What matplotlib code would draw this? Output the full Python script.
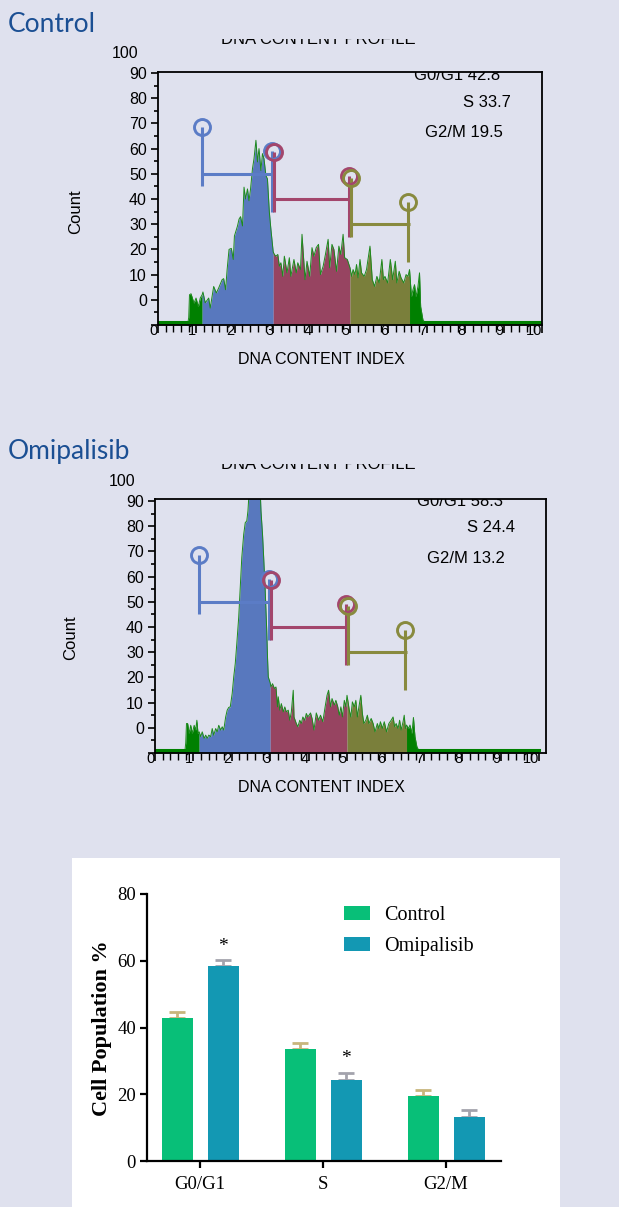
import numpy as np
import matplotlib
matplotlib.use("Agg")
import matplotlib.pyplot as plt
from matplotlib.ticker import MultipleLocator
from matplotlib.transforms import Bbox, TransformedBbox, blended_transform_factory
from matplotlib.patches import Rectangle

# ---------------- data ----------------
ctrl_x = [0.0, 0.78, 0.80, 0.82, 0.86, 0.91, 0.94, 0.99, 1.05, 1.10, 1.15, 1.17, 1.23, 1.32,
          1.36, 1.45, 1.52, 1.58, 1.67, 1.71, 1.76, 1.80, 1.85, 1.91, 1.96, 1.99, 2.07, 2.11,
          2.15, 2.20, 2.24, 2.28, 2.33, 2.37, 2.41, 2.46, 2.50, 2.55, 2.59, 2.63, 2.68, 2.72,
          2.76, 2.81, 2.85, 2.90, 2.94, 3.00, 3.03, 3.07, 3.12, 3.16, 3.20, 3.25, 3.29, 3.36,
          3.42, 3.46, 3.54, 3.60, 3.64, 3.71, 3.75, 3.77, 3.83, 3.88, 3.95, 4.01, 4.06, 4.12,
          4.18, 4.23, 4.30, 4.36, 4.43, 4.47, 4.53, 4.58, 4.65, 4.71, 4.76, 4.82, 4.86, 4.93,
          5.00, 5.04, 5.08, 5.13, 5.17, 5.21, 5.26, 5.30, 5.37, 5.43, 5.52, 5.58, 5.64, 5.70,
          5.76, 5.83, 5.87, 5.91, 5.98, 6.05, 6.11, 6.18, 6.22, 6.28, 6.33, 6.40, 6.46, 6.51,
          6.55, 6.60, 6.64, 6.68, 6.72, 6.77, 6.81, 6.84, 6.90, 6.95, 10.0]
ctrl_y = [1.0, 1.0, 3.0, 12.0, 12.4, 10.0, 8.7, 10.7, 7.3, 10.7, 12.0, 13.1, 8.8, 10.7,
          6.7, 15.3, 12.7, 14.7, 18.0, 18.4, 14.0, 22.0, 30.0, 30.4, 26.0, 35.3, 39.3, 42.0,
          43.0, 39.3, 54.7, 50.0, 54.0, 49.3, 54.0, 62.0, 66.0, 73.3, 64.7, 70.0, 61.3, 68.0,
          66.0, 59.3, 58.0, 44.7, 38.0, 29.0, 28.0, 27.3, 28.0, 23.3, 24.7, 19.3, 27.3, 20.7,
          26.7, 19.3, 26.0, 20.7, 24.7, 22.0, 36.0, 31.3, 18.0, 25.3, 19.3, 30.7, 27.3, 30.7,
          32.0, 20.0, 23.3, 28.0, 34.0, 22.7, 32.0, 30.0, 21.3, 31.3, 28.0, 36.0, 26.7, 26.0,
          22.7, 19.3, 22.0, 20.0, 24.0, 18.7, 26.0, 20.7, 19.3, 22.0, 31.3, 18.0, 15.3, 19.3,
          16.7, 26.0, 18.0, 19.3, 16.7, 26.0, 18.0, 25.3, 16.7, 21.3, 18.7, 16.7, 20.0, 19.3,
          22.0, 11.3, 14.0, 16.0, 11.3, 15.3, 20.7, 7.3, 2.0, 1.0, 1.0]

omi_x = [0.0, 0.78, 0.80, 0.82, 0.85, 0.89, 0.93, 0.97, 1.02, 1.06, 1.09, 1.12, 1.15, 1.19,
         1.23, 1.28, 1.32, 1.36, 1.40, 1.45, 1.49, 1.53, 1.58, 1.62, 1.66, 1.71, 1.75, 1.79,
         1.84, 1.88, 1.92, 1.96, 2.01, 2.05, 2.09, 2.13, 2.18, 2.22, 2.26, 2.31, 2.35, 2.39,
         2.42, 2.46, 2.56, 2.65, 2.74, 2.76, 2.80, 2.83, 2.87, 2.91, 2.93, 2.95, 3.00, 3.02,
         3.06, 3.11, 3.15, 3.19, 3.21, 3.25, 3.29, 3.34, 3.38, 3.42, 3.47, 3.51, 3.55, 3.60,
         3.62, 3.68, 3.72, 3.77, 3.81, 3.85, 3.90, 3.94, 3.98, 4.05, 4.09, 4.14, 4.20, 4.26,
         4.31, 4.37, 4.43, 4.48, 4.52, 4.57, 4.61, 4.67, 4.71, 4.76, 4.80, 4.84, 4.88, 4.93,
         4.97, 5.00, 5.06, 5.10, 5.14, 5.19, 5.23, 5.27, 5.31, 5.36, 5.40, 5.44, 5.49, 5.53,
         5.57, 5.63, 5.68, 5.73, 5.79, 5.83, 5.87, 5.92, 5.97, 6.03, 6.09, 6.15, 6.20, 6.24,
         6.28, 6.33, 6.37, 6.41, 6.46, 6.49, 6.52, 6.55, 6.60, 6.64, 6.69, 6.73, 6.77, 6.82,
         6.87, 10.0]
omi_y = [1.0, 1.0, 4.0, 11.7, 11.7, 7.8, 11.0, 7.8, 11.0, 9.1, 13.0, 7.8, 8.4, 6.5,
         8.4, 5.8, 7.1, 5.8, 7.1, 6.5, 9.7, 7.1, 9.7, 8.4, 11.0, 9.1, 10.4, 9.1,
         14.3, 17.0, 18.1, 18.3, 23.6, 30.2, 35.5, 43.4, 53.9, 65.7, 77.6, 86.8, 91.4, 92.1,
         96.0, 106.0, 110.0, 112.0, 104.0, 96.0, 86.8, 77.6, 64.4, 48.6, 38.0, 30.2, 27.8, 26.2,
         27.5, 25.6, 26.2, 18.3, 22.3, 17.0, 19.6, 16.3, 18.3, 16.3, 17.0, 13.0, 16.3, 24.9,
         14.3, 11.7, 10.4, 13.0, 11.7, 14.3, 13.0, 15.7, 14.3, 15.9, 13.7, 9.1, 15.9, 13.0,
         15.0, 12.4, 18.3, 22.9, 24.9, 18.3, 21.6, 19.0, 20.9, 18.3, 15.0, 18.3, 14.3, 20.9,
         18.3, 22.9, 17.0, 14.3, 20.3, 18.3, 20.9, 14.3, 18.3, 22.9, 15.7, 11.7, 13.0, 15.0,
         11.7, 13.7, 11.7, 8.4, 11.7, 9.7, 12.4, 9.7, 12.4, 8.4, 11.7, 13.0, 14.3, 10.4,
         11.7, 9.7, 13.0, 9.1, 12.4, 15.0, 9.7, 11.1, 9.7, 11.1, 7.8, 14.1, 6.5, 2.5,
         1.0, 1.0]

gate_bounds = [1.15, 3.0, 5.0, 6.55]
gate_levels = [60, 50, 40]

ctrl_stats = ["G0/G1 42.8", "S 33.7", "G2/M 19.5"]
omi_stats = ["G0/G1 58.3", "S 24.4", "G2/M 13.2"]

x_ticks = list(range(0, 11))
y_ticks = list(range(0, 101, 10))
y_tick_labels = [""] + [str(v) for v in range(0, 91, 10)]

phases = ["G0/G1", "S", "G2/M"]
ctrl_pct = [42.8, 33.7, 19.5]
omi_pct = [58.3, 24.4, 13.2]
ctrl_err = [1.8, 1.8, 1.9]
omi_err = [1.8, 1.9, 2.1]
omi_sig = ["*", "*", ""]

# ---------------- style ----------------
W, H = 619, 1207
BG = "#dfe1ee"
GREEN = "#008000"
BLUE = "#5878be"
RED = "#974461"
OLIVE = "#7a7f3b"
G_BLUE = "#5b7cc6"
G_RED = "#a3466c"
G_OLIVE = "#888a3e"
TITLE_BLUE = "#1b4f93"
SANS = ["Liberation Sans", "DejaVu Sans"]
SERIF = ["Liberation Serif", "DejaVu Serif"]

fig = plt.figure(figsize=(W / 100, H / 100), dpi=100, facecolor=BG)


def fx(px):
    return px / W


def fy(py):
    return 1 - py / H


def hist_panel(box, xs, ys, stats, title, title_y, prof_y, count_xy, xlab_xy, stat_pos):
    l, r, t, b = box
    ax = fig.add_axes([fx(l), fy(b), (r - l) / W, (b - t) / H])
    ax.set_facecolor("none")
    xs = np.asarray(xs)
    ys = np.asarray(ys)
    edges = [xs.min()] + gate_bounds + [xs.max()]
    fills = [GREEN, BLUE, RED, OLIVE, GREEN]
    for lo, hi, c in zip(edges[:-1], edges[1:], fills):
        m = (xs >= lo) & (xs <= hi)
        ax.fill_between(xs[m], 0, ys[m], color=c, lw=0, zorder=2)
    ax.plot(xs, ys, color="#1d8a1d", lw=0.7, zorder=3)
    ax.plot(xs[[0, 1]], ys[[0, 1]], color=GREEN, lw=2.2, zorder=3)
    ax.plot(xs[[-2, -1]], ys[[-2, -1]], color=GREEN, lw=2.2, zorder=3)

    # gates
    gcols = [G_BLUE, G_RED, G_OLIVE]
    for i, (lev, c) in enumerate(zip(gate_levels, gcols)):
        x0, x1 = gate_bounds[i], gate_bounds[i + 1]
        ax.plot([x0, x1], [lev, lev], color=c, lw=2.2, zorder=4, solid_capstyle="butt")
        off = 0.03 if i > 0 else 0
        ax.plot([x0 + off, x0 + off], [lev - 5, lev + 18.5], color=c, lw=2.2, zorder=4,
                solid_capstyle="butt")
        ax.plot([x0 + off], [lev + 18.5], marker="o", ms=11.5, mfc="none", mec=c, mew=2.1,
                zorder=5)
        ax.plot([x1 - 0.03, x1 - 0.03], [lev - 15, lev + 9], color=c, lw=2.2, zorder=4,
                solid_capstyle="butt")
        ax.plot([x1 - 0.03], [lev + 9], marker="o", ms=11.5, mfc="none", mec=c, mew=2.1,
                zorder=4.5)

    ax.set_xlim(0, (r - l) / 38.4)
    ax.set_ylim(0, (b - t) / 2.52)
    for s in ax.spines.values():
        s.set_linewidth(1.3)
        s.set_color("black")
        s.set_zorder(6)

    ax.set_yticks(y_ticks, labels=y_tick_labels, fontfamily=SANS)
    ax.yaxis.set_minor_locator(MultipleLocator(5))
    ax.tick_params(axis="y", which="major", length=5, width=1.2, pad=3, labelsize=11.5)
    ax.tick_params(axis="y", which="minor", length=3, width=1.2)
    ax.set_xticks(x_ticks, labels=[str(v) for v in x_ticks], ha="right", fontfamily=SANS)
    ax.xaxis.set_minor_locator(MultipleLocator(0.2))
    ax.tick_params(axis="x", which="major", length=6, width=1.2, pad=-7, labelsize=10.5)
    ax.tick_params(axis="x", which="minor", length=5, width=1.0)

    trans = blended_transform_factory(ax.transAxes, ax.transData)
    ax.text(-0.05, 107.9, "100", transform=trans, ha="right", va="center", fontsize=11.5,
            fontfamily=SANS, clip_on=False)

    for s, (px, py, va) in zip(stats, stat_pos):
        tt = ax.text((px - l) / (r - l), (b - py) / (b - t), s, transform=ax.transAxes,
                     ha="center", va=va, fontsize=12, fontfamily=SANS, zorder=7)
        tt.set_clip_box(ax.bbox)
        tt.set_clip_path(ax.patch)
        tt.set_clip_on(True)

    fig.text(fx(8), fy(title_y), title, ha="left", va="center", fontsize=19,
             fontfamily=["Lato", "DejaVu Sans"], color=TITLE_BLUE)
    pt = fig.text(fx(318), fy(prof_y), "DNA CONTENT PROFILE", ha="center", va="baseline",
                  fontsize=12, fontfamily=SANS)
    pt.set_clip_box(TransformedBbox(Bbox([[0, 0], [1, fy(prof_y - 5)]]), fig.transFigure))
    pt.set_clip_on(True)
    fig.text(fx(count_xy[0]), fy(count_xy[1]), "Count", rotation=90, ha="center", va="center",
             fontsize=12, fontfamily=SANS)
    fig.text(fx(xlab_xy[0]), fy(xlab_xy[1]), "DNA CONTENT INDEX", ha="center", va="center",
             fontsize=11.5, fontfamily=SANS)
    return ax


hist_panel((158, 542, 72, 325), ctrl_x, ctrl_y, ctrl_stats, "Control", 25, 44, (76, 212),
           (321, 359), [(457, 80, "baseline"), (487, 102, "center"), (464, 132, "center")])
hist_panel((155, 546, 499, 753), omi_x, omi_y, omi_stats, "Omipalisib", 451, 469, (71, 638),
           (321, 787), [(460, 506, "baseline"), (491, 527, "center"), (466, 558, "center")])

# ---------------- bar chart ----------------
fig.patches.append(Rectangle((fx(72), 0), (560 - 72) / W, (H - 858) / H,
                             transform=fig.transFigure, facecolor="white", edgecolor="none",
                             zorder=-1))
bx = fig.add_axes([fx(147), fy(1161), (501 - 147) / W, (1161 - 894) / H])
bx.set_facecolor("white")
pos = np.arange(len(phases))
w = 0.252
off = 0.187
C_CTRL = "#08bf78"
C_OMI = "#1398b3"
bx.bar(pos - off, ctrl_pct, w, color=C_CTRL, label="Control", zorder=2)
bx.bar(pos + off, omi_pct, w, color=C_OMI, label="Omipalisib", zorder=2)
bx.errorbar(pos - off, ctrl_pct, yerr=[np.zeros(3), ctrl_err], fmt="none", ecolor="#c8b67c",
            elinewidth=2, capsize=6, capthick=2, zorder=1)
bx.errorbar(pos + off, omi_pct, yerr=[np.zeros(3), omi_err], fmt="none", ecolor="#a3a3ad",
            elinewidth=2, capsize=6, capthick=2, zorder=1)
for xp, v, e, s in zip(pos + off, omi_pct, omi_err, omi_sig):
    if s:
        bx.text(xp, v + e + 4.3, s, ha="center", va="center", fontsize=14, fontfamily=SERIF)

bx.set_xlim(-0.431, 2.447)
bx.set_ylim(0, 80)
bx.set_yticks([0, 20, 40, 60, 80])
bx.set_xticks(pos)
bx.set_xticklabels(phases)
for s in ["top", "right"]:
    bx.spines[s].set_visible(False)
for s in ["left", "bottom"]:
    bx.spines[s].set_linewidth(1.6)
bx.tick_params(axis="both", length=5, width=1.6, labelsize=13.5, pad=3)
bx.tick_params(axis="x", pad=6)
for lab in bx.get_xticklabels() + bx.get_yticklabels():
    lab.set_fontfamily(SERIF)
fig.text(fx(102), fy(1028), "Cell Population %", rotation=90, ha="center", va="center",
         fontsize=16, fontweight="bold", fontfamily=SERIF)
bx.legend(loc="upper left", bbox_to_anchor=(fx(344), fy(906)), bbox_transform=fig.transFigure,
          frameon=False, prop={"family": SERIF, "size": 14.5}, handlelength=1.3,
          handleheight=0.7, handletextpad=0.7, labelspacing=0.6, borderpad=0,
          borderaxespad=0)

fig.savefig("out.png", dpi=100, facecolor=BG)
